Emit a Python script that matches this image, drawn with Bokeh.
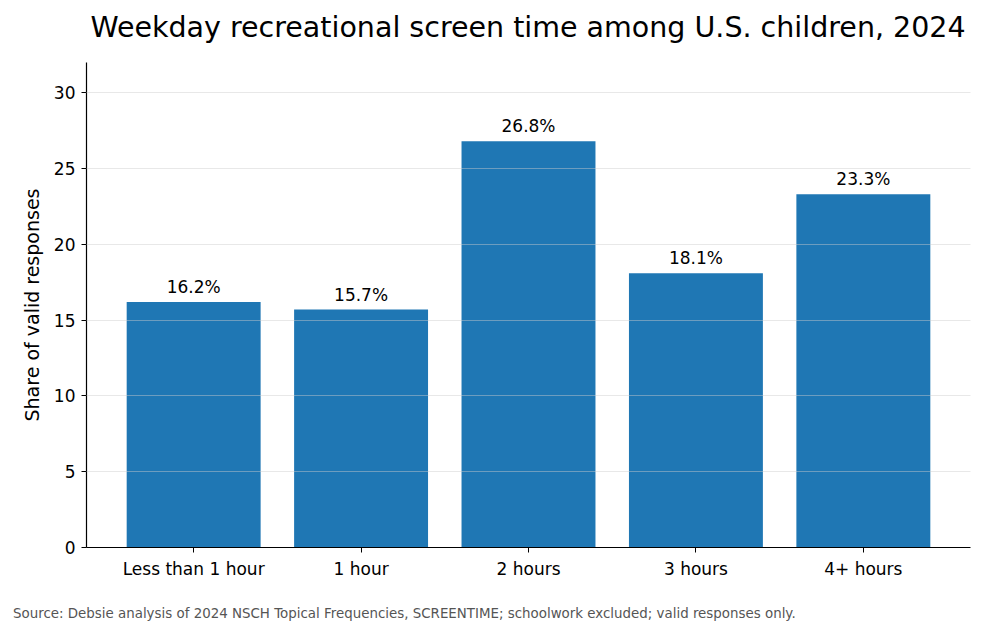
from bokeh.plotting import figure
from bokeh.layouts import column
from bokeh.models import FactorRange, Range1d, FixedTicker, Div, ColumnDataSource
from bokeh.core.properties import value
from bokeh.embed import file_html
from bokeh.resources import INLINE

categories = ["Less than 1 hour", "1 hour", "2 hours", "3 hours", "4+ hours"]
shares = [16.2, 15.7, 26.8, 18.1, 23.3]
labels = [f"{v:.1f}%" for v in shares]
y_ticks = [0, 5, 10, 15, 20, 25, 30]
title_text = "Weekday recreational screen time among U.S. children, 2024"
source_text = "Source: Debsie analysis of 2024 NSCH Topical Frequencies, SCREENTIME; schoolwork excluded; valid responses only."

FONT = "DejaVu Sans"
W, H = 983, 633
TOP_H, BOT_H = 62, 43
ML, MR = 86, 13

src = ColumnDataSource(dict(cat=categories, val=shares, lab=labels))

p = figure(
    width=W, height=H - TOP_H - BOT_H,
    x_range=FactorRange(factors=categories, range_padding=0.14, range_padding_units="absolute"),
    y_range=Range1d(0, 32),
    output_backend="svg", toolbar_location=None,
    min_border_left=ML, min_border_right=MR, min_border_top=0, min_border_bottom=43,
)
p.outline_line_color = None
p.background_fill_color = "white"
p.border_fill_color = "white"

p.vbar(x="cat", top="val", width=0.8, source=src, fill_color="#1f77b4", line_color=None)
p.text(x="cat", y="val", text="lab", source=src, text_align="center", text_baseline="bottom",
       y_offset=-5, text_font=value(FONT), text_font_size="17px", text_color="black")

p.xgrid.grid_line_color = None
p.ygrid.grid_line_color = "#cccccc"
p.ygrid.grid_line_alpha = 0.45
p.ygrid.level = "overlay"
p.yaxis.ticker = FixedTicker(ticks=y_ticks)
p.ygrid.ticker = FixedTicker(ticks=y_ticks)

for ax in (p.xaxis[0], p.yaxis[0]):
    ax.axis_line_color = "black"
    ax.axis_line_width = 1.2
    ax.major_tick_line_color = "black"
    ax.major_tick_out = 5
    ax.major_tick_in = 0
    ax.minor_tick_line_color = None
    ax.major_label_text_font = FONT
    ax.major_label_text_font_size = "17px"
    ax.major_label_text_color = "black"
    ax.major_label_standoff = 6

p.yaxis.axis_label = "Share of valid responses"
p.yaxis.axis_label_text_font = FONT
p.yaxis.axis_label_text_font_size = "19px"
p.yaxis.axis_label_text_font_style = "normal"
p.yaxis.axis_label_text_color = "black"
p.yaxis.axis_label_standoff = 8
p.xaxis.group_text_font_size = "0px"

title_div = Div(
    text=title_text, width=W, height=TOP_H, margin=0,
    styles={"font-family": FONT, "font-size": "28.5px", "color": "black",
            "line-height": "56px", "text-align": "center", "white-space": "nowrap",
            "padding-left": f"{ML}px", "padding-right": f"{MR}px", "box-sizing": "border-box",
            "width": f"{W}px", "height": f"{TOP_H}px", "background": "white"},
)
source_div = Div(
    text=source_text, width=W, height=BOT_H, margin=0,
    styles={"font-family": FONT, "font-size": "13.4px", "color": "#555555",
            "line-height": "47px", "text-align": "left", "white-space": "nowrap",
            "padding-left": "13px", "box-sizing": "border-box",
            "width": f"{W}px", "height": f"{BOT_H}px", "background": "white"},
)

layout = column(title_div, p, source_div, spacing=0, margin=0)

open("out.html", "w").write(file_html(layout, INLINE))
